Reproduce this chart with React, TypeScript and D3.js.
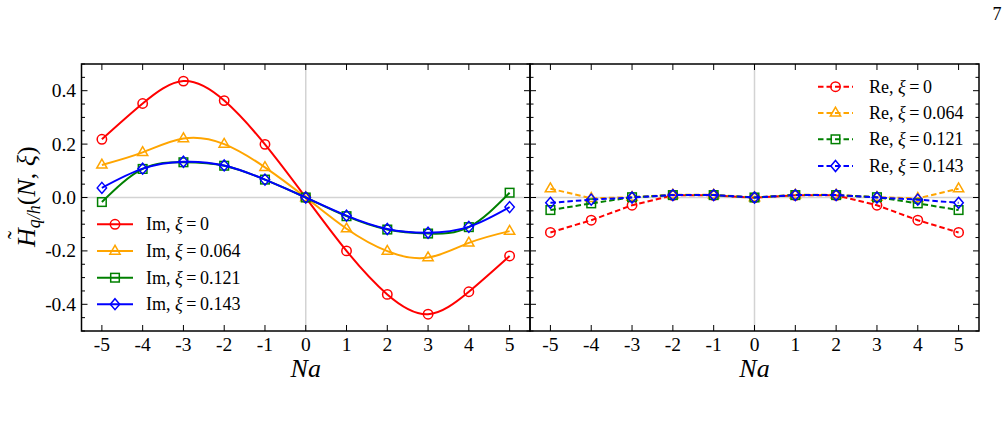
import React from "react";
import * as d3 from "d3";

// Lattice positions N (in units of a)
const N = [-5, -4, -3, -2, -1, 0, 1, 2, 3, 4, 5];

// Imaginary parts, one array per skewness xi
const imXi0 = [0.218, 0.352, 0.436, 0.363, 0.199, 0, -0.2, -0.363, -0.437, -0.353, -0.219];
const imXi064 = [0.122, 0.169, 0.221, 0.2, 0.113, 0, -0.117, -0.201, -0.225, -0.17, -0.126];
const imXi121 = [-0.017, 0.107, 0.132, 0.119, 0.067, 0, -0.07, -0.12, -0.135, -0.111, 0.018];
const imXi143 = [0.036, 0.108, 0.134, 0.12, 0.067, 0, -0.068, -0.118, -0.132, -0.11, -0.036];

// Real parts
const reXi0 = [-0.131, -0.085, -0.029, 0.008, 0.008, -0.001, 0.008, 0.008, -0.029, -0.085, -0.131];
const reXi064 = [0.033, -0.003, 0.001, 0.01, 0.01, 0, 0.01, 0.01, 0.001, -0.003, 0.033];
const reXi121 = [-0.047, -0.022, 0.001, 0.009, 0.009, 0, 0.009, 0.009, 0.001, -0.022, -0.047];
const reXi143 = [-0.02, -0.008, 0.0, 0.009, 0.009, 0, 0.009, 0.009, 0.0, -0.008, -0.02];

const xiLabels = ["0", "0.064", "0.121", "0.143"];
const seriesColors = ["#ff0000", "#ffa500", "#008000", "#0000ff"];
const markerKinds = ["circle", "triangle", "square", "diamond"];

const xTicks = [-5, -4, -3, -2, -1, 0, 1, 2, 3, 4, 5];
const yMajor = [-0.4, -0.2, 0.0, 0.2, 0.4];
const yTickLabels = ["-0.4", "-0.2", "0.0", "0.2", "0.4"];
const yMinor = d3.range(-0.5, 0.5001, 0.05).map((v) => Math.round(v * 100) / 100);

const FONT = "'Liberation Serif', 'Times New Roman', serif";

const top = 64;
const bottom = 331;
const panels = [
  { x0: 81.5, x1: 530 },
  { x0: 530, x1: 979 },
];

const yScale = d3.scaleLinear().domain([-0.5, 0.5]).range([bottom, top]);

function Marker({ kind, x, y, color }: { kind: string; x: number; y: number; color: string }) {
  const common = { fill: "none", stroke: color, strokeWidth: 1.5 };
  if (kind === "circle") return <circle cx={x} cy={y} r={4.7} {...common} />;
  if (kind === "square") return <rect x={x - 4.3} y={y - 4.3} width={8.6} height={8.6} {...common} />;
  if (kind === "triangle") {
    const r = 5.7;
    const pts = [
      [x, y - r],
      [x - r * 0.9, y + r * 0.55],
      [x + r * 0.9, y + r * 0.55],
    ];
    return <polygon points={pts.map((p) => p.join(",")).join(" ")} {...common} />;
  }
  const d = 5.5;
  const pts = [
    [x, y - d],
    [x + d * 0.85, y],
    [x, y + d],
    [x - d * 0.85, y],
  ];
  return <polygon points={pts.map((p) => p.join(",")).join(" ")} {...common} />;
}

function Frame({ x0, x1 }: { x0: number; x1: number }) {
  const xScale = d3.scaleLinear().domain([-5.5, 5.5]).range([x0, x1]);
  return (
    <g>
      {/* zero reference lines */}
      <line x1={x0} x2={x1} y1={yScale(0)} y2={yScale(0)} stroke="#d3d3d3" strokeWidth={1.5} />
      <line x1={xScale(0)} x2={xScale(0)} y1={top} y2={bottom} stroke="#d3d3d3" strokeWidth={1.5} />
      {/* x ticks, top and bottom, inward */}
      {xTicks.map((t) => (
        <g key={"xt" + t}>
          <line x1={xScale(t)} x2={xScale(t)} y1={bottom} y2={bottom - 6} stroke="#000" strokeWidth={1} />
          <line x1={xScale(t)} x2={xScale(t)} y1={top} y2={top + 6} stroke="#000" strokeWidth={1} />
        </g>
      ))}
      {/* y ticks on both sides, inward */}
      {yMinor.map((t) => {
        const major = yMajor.some((m) => Math.abs(m - t) < 1e-6);
        const len = major ? 6 : 3.5;
        return (
          <g key={"yt" + t}>
            <line x1={x0} x2={x0 + len} y1={yScale(t)} y2={yScale(t)} stroke="#000" strokeWidth={1} />
            <line x1={x1} x2={x1 - len} y1={yScale(t)} y2={yScale(t)} stroke="#000" strokeWidth={1} />
          </g>
        );
      })}
      {xTicks.map((t) => (
        <text key={"xl" + t} x={xScale(t)} y={351} textAnchor="middle" fontFamily={FONT} fontSize={19.5}>
          {String(t)}
        </text>
      ))}
      <text x={xScale(0)} y={377} textAnchor="middle" fontFamily={FONT} fontSize={26} fontStyle="italic">
        Na
      </text>
    </g>
  );
}

function Panel({
  x0,
  x1,
  series,
  smooth,
  dashed,
}: {
  x0: number;
  x1: number;
  series: number[][];
  smooth: boolean;
  dashed: boolean;
}) {
  const xScale = d3.scaleLinear().domain([-5.5, 5.5]).range([x0, x1]);
  const line = d3
    .line<number>()
    .x((_, i) => xScale(N[i]))
    .y((v) => yScale(v))
    .curve(smooth ? d3.curveNatural : d3.curveLinear);
  return (
    <g>
      {series.map((vals, si) => (
        <g key={si}>
          <path
            d={line(vals) || ""}
            fill="none"
            stroke={seriesColors[si]}
            strokeWidth={2}
            strokeDasharray={dashed ? "5.5 3" : undefined}
          />
          {vals.map((v, i) => (
            <Marker key={i} kind={markerKinds[si]} x={xScale(N[i])} y={yScale(v)} color={seriesColors[si]} />
          ))}
        </g>
      ))}
    </g>
  );
}

function Legend({
  prefix,
  lx0,
  lx1,
  tx,
  rows,
  dashed,
}: {
  prefix: string;
  lx0: number;
  lx1: number;
  tx: number;
  rows: number[];
  dashed: boolean;
}) {
  return (
    <g>
      {rows.map((cy, i) => (
        <g key={i}>
          <line
            x1={lx0}
            x2={lx1}
            y1={cy}
            y2={cy}
            stroke={seriesColors[i]}
            strokeWidth={2}
            strokeDasharray={dashed ? "5.5 3" : undefined}
          />
          <Marker kind={markerKinds[i]} x={(lx0 + lx1) / 2} y={cy} color={seriesColors[i]} />
          <text x={tx} y={cy + 6} fontFamily={FONT} fontSize={18}>
            {prefix + ", "}
            <tspan fontStyle="italic">ξ</tspan>
            {"\u2009=\u2009" + xiLabels[i]}
          </text>
        </g>
      ))}
    </g>
  );
}

export default function App() {
  return (
    <svg
      width={1007}
      height={424}
      style={{ position: "absolute", left: 0, top: 0, background: "#fff" }}
      fontFamily={FONT}
    >
      <rect x={0} y={0} width={1007} height={424} fill="#fff" />
      <text x={997} y={20} textAnchor="middle" fontFamily={FONT} fontSize={18}>
        7
      </text>

      <Frame x0={panels[0].x0} x1={panels[0].x1} />
      <Frame x0={panels[1].x0} x1={panels[1].x1} />

      <Panel x0={panels[0].x0} x1={panels[0].x1} series={[imXi0, imXi064, imXi121, imXi143]} smooth dashed={false} />
      <Panel x0={panels[1].x0} x1={panels[1].x1} series={[reXi0, reXi064, reXi121, reXi143]} smooth={false} dashed />

      <Legend prefix="Im" lx0={97} lx1={133} tx={146} rows={[224.3, 251, 277.7, 304.2]} dashed={false} />
      <Legend prefix="Re" lx0={818} lx1={853} tx={869} rows={[86.7, 112.9, 139.3, 166]} dashed />

      {/* y tick labels */}
      {yMajor.map((t, i) => (
        <text key={"yl" + t} x={76} y={yScale(t) + 6.5} textAnchor="end" fontFamily={FONT} fontSize={19.5}>
          {yTickLabels[i]}
        </text>
      ))}

      {/* y axis label: H-tilde_{q/h}(N, xi) */}
      <g transform="translate(35,247) rotate(-90)">
        <text x={0} y={0} fontFamily={FONT} fontSize={26}>
          <tspan fontStyle="italic">H</tspan>
          <tspan fontStyle="italic" fontSize={18} dy={5}>
            q/h
          </tspan>
          <tspan dy={-5}>(</tspan>
          <tspan fontStyle="italic">N</tspan>
          <tspan>, </tspan>
          <tspan fontStyle="italic">ξ</tspan>
          <tspan>)</tspan>
        </text>
        <text x={12} y={-11} textAnchor="middle" fontFamily={FONT} fontSize={24}>
          ˜
        </text>
      </g>

      {/* panel frames */}
      {panels.map((p, i) => (
        <rect key={i} x={p.x0} y={top} width={p.x1 - p.x0} height={bottom - top} fill="none" stroke="#000" strokeWidth={1.5} />
      ))}
    </svg>
  );
}
